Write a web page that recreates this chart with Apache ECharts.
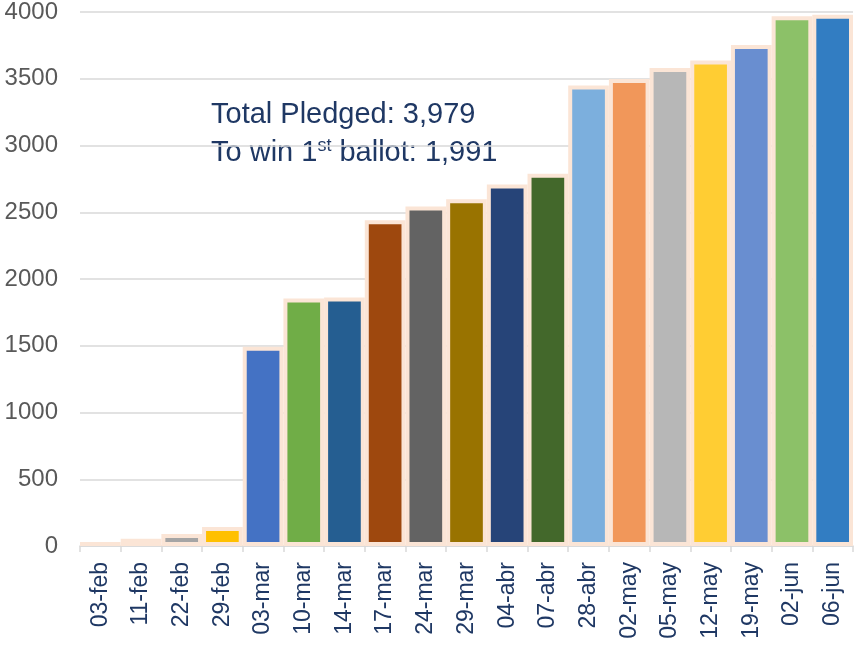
<!DOCTYPE html>
<html>
<head>
<meta charset="utf-8">
<script src="https://cdn.jsdelivr.net/npm/echarts@6/dist/echarts.min.js"></script>
<style>
  html, body { margin: 0; padding: 0; background: #fff; }
  #main { width: 854px; height: 645px; }
</style>
</head>
<body>
<div id="main"></div>
<script>
// cumulative pledged delegates by date
const dates = ["03-feb", "11-feb", "22-feb", "29-feb", "03-mar", "10-mar", "14-mar", "17-mar",
  "24-mar", "29-mar", "04-abr", "07-abr", "28-abr", "02-may", "05-may", "12-may", "19-may",
  "02-jun", "06-jun"];
const pledged = [30, 55, 90, 142, 1493, 1854, 1862, 2440, 2544, 2597, 2707, 2789, 3449, 3499,
  3581, 3636, 3753, 3968, 3979];
const barColors = ["#5B9BD5", "#ED7D31", "#A5A5A5", "#FFC000", "#4472C4", "#70AD47", "#255E91",
  "#9E480E", "#636363", "#997300", "#264478", "#43682B", "#7CAFDD", "#F1975A", "#B7B7B7",
  "#FFCD33", "#698ED0", "#8CC168", "#327DC2"];
const yTicks = { min: 0, max: 4000, step: 500 };
const noteLine1 = "Total Pledged: 3,979";
const noteLine2 = ["To win 1", "st", " ballot: 1,991"];

let myChart = echarts.init(document.getElementById("main"));

let barData = pledged.map(function (v, i) {
  return { value: v, itemStyle: { color: barColors[i] } };
});

let font = "Liberation Sans, Arial, sans-serif";

let option = {
  animation: false,
  grid: { left: 80, right: 1, top: 11, bottom: 99 },
  xAxis: {
    type: "category",
    data: dates,
    axisLine: { lineStyle: { color: "#D9D9D9", width: 1.5 } },
    axisTick: { show: true, length: 6, lineStyle: { color: "#D9D9D9", width: 1.5 } },
    axisLabel: {
      rotate: 90,
      margin: 16,
      color: "#1F3864",
      fontSize: 23,
      fontFamily: font
    }
  },
  yAxis: {
    type: "value",
    min: yTicks.min,
    max: yTicks.max,
    interval: yTicks.step,
    axisLine: { show: false },
    axisTick: { show: false },
    splitLine: { lineStyle: { color: "#D9D9D9", width: 1.5 } },
    axisLabel: {
      margin: 22,
      color: "#595959",
      fontSize: 24,
      fontFamily: font,
      formatter: function (v) { return String(v); }
    }
  },
  series: [
    {
      type: "bar",
      data: barData,
      barCategoryGap: 0,
      itemStyle: { borderColor: "#FBE5D6", borderWidth: 4 }
    }
  ],
  graphic: [
    {
      type: "text",
      left: 211,
      top: 100,
      style: {
        text: "{a|" + noteLine1 + "}\n{a|" + noteLine2[0] + "}{s|" + noteLine2[1] + "}{a|" + noteLine2[2] + "}",
        fill: "#1F3864",
        rich: {
          a: { fontSize: 29, lineHeight: 38, fill: "#1F3864", color: "#1F3864", fontFamily: font },
          s: { fontSize: 18, lineHeight: 38, fill: "#1F3864", color: "#1F3864", verticalAlign: "top", padding: [4, 0, 0, 0], fontFamily: font }
        }
      }
    }
  ]
};
myChart.setOption(option);
</script>
</body>
</html>
